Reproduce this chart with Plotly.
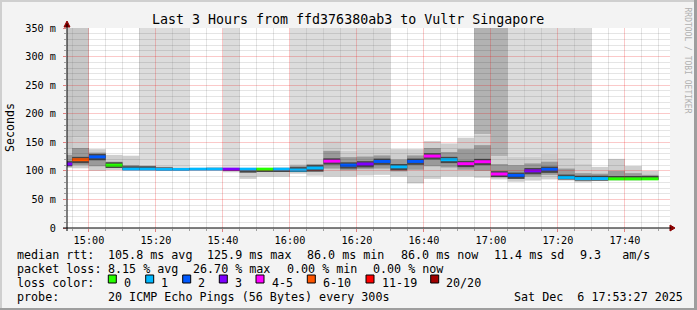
import plotly.graph_objects as go
import pandas as pd

# ---------------- data ----------------
step_start = pd.date_range("2025-12-06 14:50:00", periods=36, freq="5min")
median_ms = [112, 119.5, 124.5, 110, 103, 103, 102.5, 102.5, 103, 103,
             103, 103, 103, 103, 101.5, 105, 117, 110, 112, 116.5,
             107, 116.5, 125.9, 119.5, 112.5, 116, 94.5, 92, 100, 102.5,
             88.5, 86.5, 86.5, 86, 86, 86]
loss_class = [3, 5, 2, 0, 1, 1, 1, 1, 1, 1,
              3, 1, 0, 1, 1, 1, 4, 2, 3, 2,
              1, 2, 4, 1, 4, 4, 4, 2, 3, 2,
              1, 1, 1, 0, 0, 0]
smoke_hi = [140, 158, 138, 128, 126.5, 111, 108.5, 106, 105, 107,
            106, 105, 105, 106, 113, 119, 152, 135, 138, 138,
            138, 138, 152, 148, 158, 164, 125, 125, 125, 129.5,
            123, 112, 107, 121, 108.5, 100]
smoke_lo = [105, 104.5, 100, 101.5, 102, 101, 101, 101, 101, 101,
            97.5, 86, 90, 90, 95, 91.5, 90, 90, 92, 93,
            90, 78, 86, 90, 90, 88, 85, 81, 83, 85,
            83, 80, 82, 83, 83, 84]
mid_hi = [128, 140, 132, 116, 110, 108, 106, 104.5, 104, 105,
          105, 104, 104, 104.5, 109, 112, 135, 124, 125, 127,
          120, 127, 140, 133, 138, 145, 112, 110, 113, 116,
          104, 96, 95, 100, 96, 93]
mid_lo = [108, 110, 108, 105, 102, 101.5, 101.5, 101.5, 101.5, 101.5,
          100, 97, 98, 98, 98, 98, 104, 101, 103, 104,
          99, 102, 108, 106, 102, 100, 89, 86, 90, 93,
          85, 83, 83, 84, 84, 84.5]
loss_shade = [2, 2, 0, 0, 0, 1, 1, 1, 0, 0,
              1, 0, 0, 0, 1, 1, 1, 1, 1, 1,
              0, 0, 0, 0, 0, 3, 3, 1, 1, 1,
              1, 1, 0, 0, 0, 0]

loss_colors = ["#26ff00", "#00b8ff", "#0059ff", "#7e00ff",
               "#ff00ff", "#ff5500", "#ff0000", "#a10000"]
loss_labels = ["0", "1", "2", "3", "4-5", "6-10", "11-19", "20/20"]
y_ticks = [0, 50, 100, 150, 200, 250, 300, 350]
y_ticktext = ["0", "50 m", "100 m", "150 m", "200 m", "250 m", "300 m", "350 m"]

title = "Last 3 Hours from ffd376380ab3 to Vultr Singapore"
legend_rows = [
    [("median rtt:", 16), ("105.8 ms avg", 106.5), ("125.9 ms max", 206),
     ("86.0 ms min", 305.5), ("86.0 ms now", 399.5), ("11.4 ms sd", 493),
     ("9.3   am/s", 578.5)],
    [("packet loss:", 16), ("8.15 % avg", 106.5), ("26.70 % max", 192),
     ("0.00 % min", 285.5), ("0.00 % now", 371.5)],
    [("loss color:", 16)],
    [("probe:", 16), ("20 ICMP Echo Pings (56 Bytes) every 300s", 106.5),
     ("Sat Dec  6 17:53:27 2025", 512.5)],
]
box_x = [108.3, 145.7, 182.7, 219.3, 256, 307.3, 366, 430.7]

# ---------------- geometry / style ----------------
W, H = 697, 310
L, R, T, B = 67, 670, 28, 228
MONO = "DejaVu Sans Mono"
MAJOR = "rgba(235,0,0,0.21)"
MINOR = "rgba(0,0,0,0.10)"
STEP = 300000


def px(x):
    return (x - L) / (R - L)


def py(y):
    return (B - y) / (B - T)


centers = step_start + pd.Timedelta(minutes=2.5)
x_start = pd.Timestamp("2025-12-06 14:53:27")
x_end = pd.Timestamp("2025-12-06 17:53:27")
x_major = pd.date_range("2025-12-06 15:00", "2025-12-06 17:40", freq="20min")
x_minor = [t for t in pd.date_range("2025-12-06 14:55", "2025-12-06 17:50", freq="5min")
           if t not in set(x_major)]
y_minor = [v for v in range(10, 350, 10) if v % 50]

fig = go.Figure()

# loss columns (lost pings shown up to the top)
shade_colors = {1: "#dcdcdc", 2: "#c8c8c8", 3: "#b2b2b2"}
for s, col in shade_colors.items():
    idx = [i for i, v in enumerate(loss_shade) if v == s]
    fig.add_bar(x=[centers[i] for i in idx],
                base=[smoke_hi[i] for i in idx],
                y=[400 - smoke_hi[i] for i in idx],
                width=STEP, marker=dict(color=col, line_width=0))

# smoke layers
fig.add_bar(x=centers, base=smoke_lo,
            y=[h - l for h, l in zip(smoke_hi, smoke_lo)],
            width=STEP, marker=dict(color="#cfcfcf", line_width=0))
fig.add_bar(x=centers, base=mid_lo,
            y=[h - l for h, l in zip(mid_hi, mid_lo)],
            width=STEP, marker=dict(color="#9a9a9a", line_width=0))
core_lo = [max(m - 6, lo) for m, lo in zip(median_ms, mid_lo)]
core_hi = [min(m + 5, hi) for m, hi in zip(median_ms, mid_hi)]
fig.add_bar(x=centers, base=core_lo,
            y=[h - l for h, l in zip(core_hi, core_lo)],
            width=STEP, marker=dict(color="#464646", line_width=0))

# median line coloured by loss
fig.add_bar(x=centers, base=[m - 2.6 for m in median_ms],
            y=[5.2] * len(median_ms), width=STEP,
            marker=dict(color=[loss_colors[c] for c in loss_class], line_width=0))

# empty trace to create the grid subplot drawn above the data
fig.add_scatter(x=[x_start], y=[-10], xaxis="x2", yaxis="y2",
                mode="markers", marker=dict(opacity=0))

annotations = []
annotations.append(dict(text=title, x=px(348), y=py(19), xref="paper", yref="paper",
                        showarrow=False, xanchor="center", yanchor="middle",
                        font=dict(family=MONO, size=13.3, color="black")))
annotations.append(dict(text="Seconds", x=px(10), y=py(128), xref="paper", yref="paper",
                        showarrow=False, textangle=-90, xanchor="center", yanchor="middle",
                        font=dict(family=MONO, size=11.6, color="black")))
annotations.append(dict(text="RRDTOOL / TOBI OETIKER", x=px(687.5), y=py(60),
                        xref="paper", yref="paper", showarrow=False, textangle=90,
                        xanchor="center", yanchor="middle",
                        font=dict(family=MONO, size=8, color="#b0b0b0")))
row_y = [254.5, 268.5, 282.5, 296.5]
for row, yy in zip(legend_rows, row_y):
    for txt, xx in row:
        annotations.append(dict(text=txt.replace(" ", "&nbsp;"), x=px(xx), y=py(yy),
                                xref="paper", yref="paper", showarrow=False,
                                xanchor="left", yanchor="middle", borderpad=0,
                                font=dict(family=MONO, size=11.7, color="black")))

shapes = []
# plot canvas
shapes.append(dict(type="rect", xref="paper", yref="paper", x0=0, x1=1, y0=0, y1=1,
                   fillcolor="white", line_width=0, layer="below"))
# legend colour boxes
for bx, col, lab in zip(box_x, loss_colors, loss_labels):
    shapes.append(dict(type="rect", xref="paper", yref="paper",
                       x0=px(bx), x1=px(bx + 8), y0=py(283), y1=py(275),
                       fillcolor=col, line=dict(color="black", width=1)))
    annotations.append(dict(text=lab, x=px(bx + 14.7), y=py(row_y[2]),
                            xref="paper", yref="paper", showarrow=False,
                            xanchor="left", yanchor="middle", borderpad=0,
                            font=dict(family=MONO, size=11.7, color="black")))
# frame
shapes.append(dict(type="rect", xref="paper", yref="paper", x0=px(0), x1=px(697),
                   y0=py(310), y1=py(308), fillcolor="#9e9e9e", line_width=0))
shapes.append(dict(type="rect", xref="paper", yref="paper", x0=px(694), x1=px(697),
                   y0=py(310), y1=py(0), fillcolor="#9e9e9e", line_width=0))
shapes.append(dict(type="rect", xref="paper", yref="paper", x0=px(0), x1=px(694),
                   y0=py(2), y1=py(0), fillcolor="#cfcfcf", line_width=0))
shapes.append(dict(type="rect", xref="paper", yref="paper", x0=px(0), x1=px(2),
                   y0=py(308), y1=py(0), fillcolor="#cfcfcf", line_width=0))
# axis arrows
shapes.append(dict(type="path", xref="paper", yref="paper",
                   path=f"M {px(670)},{py(225)} L {px(675)},{py(228)} L {px(670)},{py(231)} Z",
                   fillcolor="#8b0000", line=dict(color="#8b0000", width=1)))
shapes.append(dict(type="path", xref="paper", yref="paper",
                   path=f"M {px(64)},{py(27)} L {px(67)},{py(21)} L {px(70)},{py(27)} Z",
                   fillcolor="#8b0000", line=dict(color="#8b0000", width=1)))
shapes.append(dict(type="line", xref="paper", yref="paper", x0=px(67), x1=px(67),
                   y0=py(231), y1=py(24), line=dict(color="black", width=1)))
shapes.append(dict(type="line", xref="paper", yref="paper", x0=px(63), x1=px(671),
                   y0=py(228), y1=py(228), line=dict(color="black", width=1)))

fig.update_layout(
    width=W, height=H,
    margin=dict(l=L, r=W - R, t=T, b=H - B, pad=0),
    paper_bgcolor="#f3f3f3", plot_bgcolor="rgba(0,0,0,0)",
    barmode="overlay", showlegend=False,
    annotations=annotations, shapes=shapes,
    xaxis=dict(range=[x_start, x_end], type="date", visible=False, domain=[0, 1],
               anchor="y", fixedrange=True),
    yaxis=dict(range=[0, 350], visible=False, domain=[0, 1], anchor="x", fixedrange=True),
    xaxis2=dict(range=[x_start, x_end], type="date", domain=[0, 1], anchor="y2",
                tickformat="%H:%M", tickvals=list(x_major),
                showgrid=True, gridcolor=MAJOR, gridwidth=1,
                ticks="outside", ticklen=3, tickcolor="#e08080", showline=False,
                zeroline=False,
                minor=dict(tickvals=x_minor, showgrid=True,
                           gridcolor=MINOR, ticks="outside",
                           ticklen=2, tickcolor="#a0a0a0"),
                tickfont=dict(family=MONO, size=10.2, color="black")),
    yaxis2=dict(range=[0, 350], domain=[0, 1], anchor="x2",
                tickvals=y_ticks, ticktext=y_ticktext,
                showgrid=True, gridcolor=MAJOR, gridwidth=1,
                ticks="outside", ticklen=3, tickcolor="#e08080", showline=False,
                zeroline=False, ticklabelstandoff=5,
                minor=dict(tickvals=y_minor, showgrid=True, gridcolor=MINOR,
                           ticks="outside", ticklen=2,
                           tickcolor="#a0a0a0"),
                tickfont=dict(family=MONO, size=10.2, color="black")),
)

fig.write_html("out.html")
